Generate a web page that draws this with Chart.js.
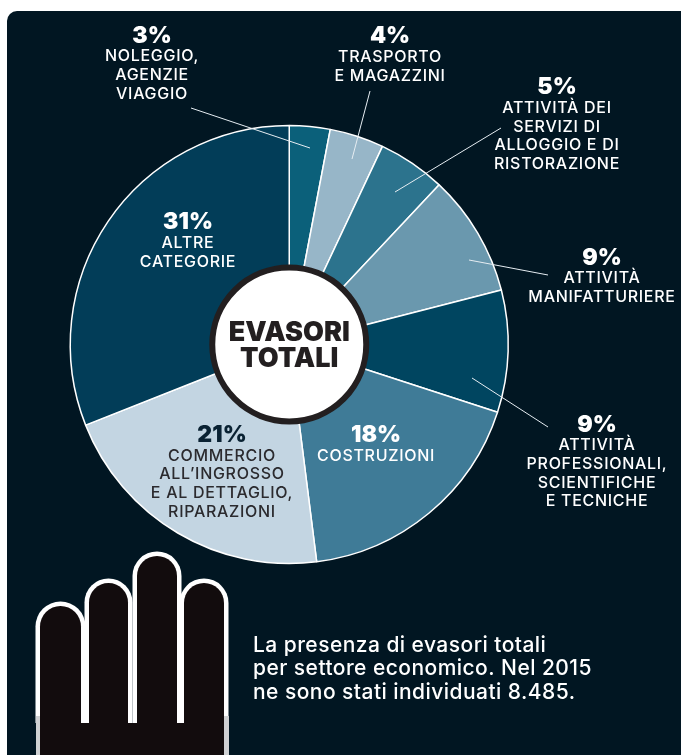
<!DOCTYPE html>
<html lang="it">
<head>
<meta charset="utf-8">
<title>Evasori totali</title>
<script src="https://cdn.jsdelivr.net/npm/chart.js@4"></script>
<style>
    html, body { margin: 0; padding: 0; background: #fff; }
    #wrap { position: relative; width: 681px; height: 755px; overflow: hidden; }
    canvas { position: absolute; left: 0; top: 0; }
</style>
</head>
<body>
<div id="wrap">
    <canvas id="pieChart" width="681" height="755"></canvas>
</div>
<script>
const categories = [
    ['NOLEGGIO,', 'AGENZIE', 'VIAGGIO'],
    ['TRASPORTO', 'E MAGAZZINI'],
    ['ATTIVITÀ DEI', 'SERVIZI DI', 'ALLOGGIO E DI', 'RISTORAZIONE'],
    ['ATTIVITÀ', 'MANIFATTURIERE'],
    ['ATTIVITÀ', 'PROFESSIONALI,', 'SCIENTIFICHE', 'E TECNICHE'],
    ['COSTRUZIONI'],
    ['COMMERCIO', 'ALL’INGROSSO', 'E AL DETTAGLIO,', 'RIPARAZIONI'],
    ['ALTRE', 'CATEGORIE']
];
const shares = [3, 4, 5, 9, 9, 18, 21, 31];
const sliceColors = ['#0b607a', '#97b6c8', '#2c738d', '#6a98ae', '#004560', '#3f7b97', '#c3d5e2', '#023d58'];
const centerTitle = ['EVASORI', 'TOTALI'];
const caption = ['La presenza di evasori totali', 'per settore economico. Nel 2015', 'ne sono stati individuati 8.485.'];

const FONT = 'Inter, "Open Sans", sans-serif';
const PANEL = '#011622';

// where each label goes: x centre, y of the percentage, y of every text line
const labelSpots = [
    { x: 152, pct: 43, lines: [61, 80, 99] },
    { x: 390, pct: 43, lines: [62, 81] },
    { x: 557, pct: 94, lines: [113, 132, 150, 169] },
    { x: 602, pct: 265, lines: [283, 302] },
    { x: 597, pct: 432, lines: [450, 469, 488, 506] },
    { x: 376, pct: 442, lines: [461] },
    { x: 222, pct: 442, lines: [461, 479, 498, 517], pctColor: '#0a2233', color: '#2b2a2e' },
    { x: 188, pct: 229, lines: [248, 267] }
];

// thin leader lines from outside labels into their slice
const leaders = [
    [191, 108, 310, 148],
    [370, 91, 352, 159],
    [501, 128, 395, 192],
    [548, 275, 469, 260],
    [548, 427, 472, 378]
];

const panelPlugin = {
    id: 'panel',
    beforeDraw(chart) {
        const ctx = chart.ctx;
        ctx.save();
        ctx.fillStyle = PANEL;
        ctx.beginPath();
        ctx.roundRect(7, 11, 690, 760, 10);
        ctx.fill();
        ctx.restore();
    }
};

function drawHand(ctx) {
    // fingers: left, right, top of the black fill
    const fingers = [[40, 81, 606], [89, 128, 583], [137, 177, 556], [184, 224, 583]];
    const fingerPath = (l, r, t, grow) => {
        const rad = (r - l) / 2;
        ctx.beginPath();
        ctx.arc(l + rad, t + rad, rad + grow, Math.PI, 0);
        ctx.lineTo(r + grow, 723);
        ctx.lineTo(l - grow, 723);
        ctx.closePath();
        ctx.fill();
    };
    ctx.save();
    ctx.fillStyle = '#fff';
    fingers.forEach(([l, r, t]) => fingerPath(l, r, t, 4.5));
    // the outline goes a bit greyer along the palm
    ctx.fillStyle = '#cfd1d3';
    ctx.fillRect(36, 716, 4, 39);
    ctx.fillRect(224, 716, 5, 39);
    ctx.fillStyle = '#120c0d';
    fingers.forEach(([l, r, t]) => fingerPath(l, r, t, 0));
    ctx.fillRect(40, 723, 184, 32);
    ctx.restore();
}

const labelsPlugin = {
    id: 'labels',
    afterDatasetsDraw(chart) {
        const ctx = chart.ctx;
        const arc = chart.getDatasetMeta(0).data[0];
        ctx.save();

        // leaders
        ctx.strokeStyle = '#e6edf2';
        ctx.lineWidth = 1;
        leaders.forEach(([x1, y1, x2, y2]) => {
            ctx.beginPath();
            ctx.moveTo(x1, y1);
            ctx.lineTo(x2, y2);
            ctx.stroke();
        });

        // white disc in the middle
        ctx.beginPath();
        ctx.arc(arc.x, arc.y, 77, 0, Math.PI * 2);
        ctx.fillStyle = '#fff';
        ctx.fill();
        ctx.lineWidth = 6;
        ctx.strokeStyle = '#231f20';
        ctx.stroke();

        ctx.textAlign = 'center';
        ctx.textBaseline = 'alphabetic';
        ctx.fillStyle = '#231f20';
        ctx.font = '900 27px ' + FONT;
        ctx.fillText(centerTitle[0], arc.x, 341);
        ctx.fillText(centerTitle[1], arc.x, 367);

        // slice labels
        shares.forEach((v, i) => {
            const spot = labelSpots[i];
            ctx.fillStyle = spot.pctColor || '#ffffff';
            ctx.font = '900 23px ' + FONT;
            ctx.letterSpacing = '0px';
            ctx.fillText(v + '%', spot.x, spot.pct);
            ctx.fillStyle = spot.color || '#ffffff';
            ctx.font = '500 16px ' + FONT;
            ctx.letterSpacing = '0.7px';
            categories[i].forEach((line, n) => ctx.fillText(line, spot.x, spot.lines[n]));
        });

        // caption
        ctx.textAlign = 'left';
        ctx.fillStyle = '#ffffff';
        ctx.font = '500 21px ' + FONT;
        ctx.letterSpacing = '0.45px';
        caption.forEach((line, n) => ctx.fillText(line, 253, [652, 675, 699][n]));
        ctx.letterSpacing = '0px';

        drawHand(ctx);
        ctx.restore();
    }
};

new Chart(document.getElementById('pieChart').getContext('2d'), {
    type: 'pie',
    data: {
        labels: categories.map(c => c.join(' ')),
        datasets: [{
            data: shares,
            backgroundColor: sliceColors,
            borderColor: '#ffffff',
            borderWidth: 1.5
        }]
    },
    options: {
        responsive: false,
        animation: false,
        devicePixelRatio: 1,
        layout: { padding: { left: 69.5, right: 172, top: 124.5, bottom: 190.5 } },
        plugins: { legend: { display: false }, tooltip: { enabled: false } }
    },
    plugins: [panelPlugin, labelsPlugin]
});
</script>
</body>
</html>
